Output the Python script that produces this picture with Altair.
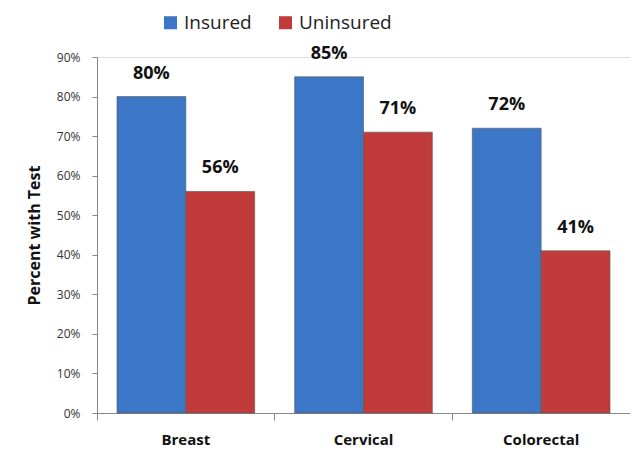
import altair as alt
import pandas as pd

categories = ["Breast", "Cervical", "Colorectal"]
insured = [80, 85, 72]
uninsured = [56, 71, 41]
groups = ["Insured", "Uninsured"]
colors = ["#3C76C6", "#C23B3B"]

rows = []
for c, a, b in zip(categories, insured, uninsured):
    rows.append({"cat": c, "group": "Insured", "val": a / 100, "lab": f"{a}%"})
    rows.append({"cat": c, "group": "Uninsured", "val": b / 100, "lab": f"{b}%"})
df = pd.DataFrame(rows)

FONT = "Open Sans"

x = alt.X("cat:N", sort=categories, title=None,
          scale=alt.Scale(paddingInner=0.225, paddingOuter=0.1125),
          axis=alt.Axis(labelAngle=0, labelFontSize=15, labelFontWeight="bold",
                        labelColor="#111", labelPadding=12, bandPosition=-0.145,
                        domainColor="#888", tickColor="#888", tickSize=7,
                        labelFont=FONT))
xo = alt.XOffset("group:N", sort=groups, scale=alt.Scale(paddingInner=0, paddingOuter=0))
y = alt.Y("val:Q", title="Percent with Test",
          scale=alt.Scale(domain=[0, 0.9], nice=False),
          axis=alt.Axis(format=".0%", values=[i / 10 for i in range(10)], grid=False,
                        labelFontSize=12, labelColor="#333", labelFont=FONT,
                        domainColor="#888", tickColor="#888", tickSize=5, labelPadding=12,
                        titleFontSize=16, titleFontWeight="bold", titleColor="#111",
                        titleFont=FONT, titlePadding=14))

color = alt.Color("group:N", sort=groups,
                  scale=alt.Scale(domain=groups, range=colors),
                  legend=alt.Legend(title=None, orient="none", legendX=64, legendY=-44,
                                    direction="horizontal", symbolType="square",
                                    symbolSize=170, labelFontSize=19, labelFont=FONT,
                                    labelColor="#222", columnPadding=24,
                                    symbolStrokeWidth=0))

bars = alt.Chart(df).mark_bar(stroke="#555", strokeWidth=0.6).encode(
    x=x, xOffset=xo, y=y, color=color)

text = alt.Chart(df).mark_text(dy=-14, baseline="bottom", fontSize=18, fontWeight="bold",
                               font=FONT, color="#111").encode(
    x=x, xOffset=xo, y=y, text="lab:N")

chart = (bars + text).properties(
    width=533, height=356,
    autosize=alt.AutoSizeParams(type="none"),
    padding={"left": 89, "top": 49, "right": 0, "bottom": 40},
).configure_view(stroke=None).configure(background="white")

chart.save("out.html", embed_options={"renderer": "svg", "actions": False})
